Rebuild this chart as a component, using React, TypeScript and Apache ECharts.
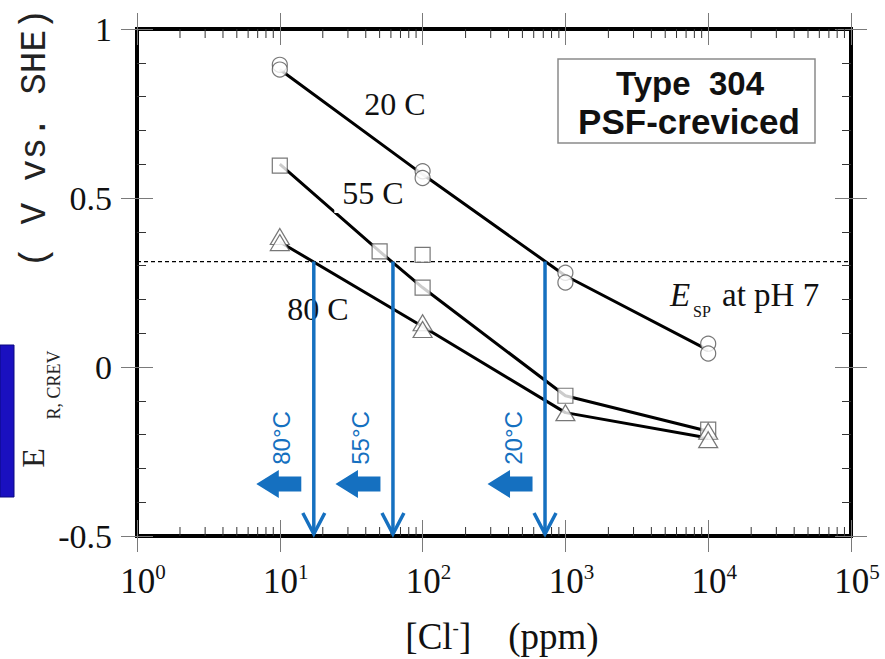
import React, { useEffect, useRef } from 'react';
import * as echarts from 'echarts';

// ---- axis ranges ----
const xMin = 1;
const xMax = 100000;
const yMin = -0.5;
const yMax = 1;
const yTickStep = 0.5;

// ---- 20 C (circles) ----
const c20X = [10, 10, 100, 100, 1000, 1000, 10000, 10000];
const c20Y = [0.894, 0.88, 0.579, 0.559, 0.279, 0.25, 0.069, 0.04];
const fit20X = [10, 100, 1000, 10000];
const fit20Y = [0.88, 0.57, 0.27, 0.05];

// ---- 55 C (squares) ----
const s55X = [10, 50, 100, 100, 1000, 10000];
const s55Y = [0.596, 0.342, 0.332, 0.235, -0.085, -0.185];
const fit55X = [10, 50, 100, 1000, 10000];
const fit55Y = [0.6, 0.342, 0.235, -0.085, -0.19];

// ---- 80 C (triangles) ----
const t80X = [10, 10, 100, 100, 1000, 10000, 10000];
const t80Y = [0.386, 0.368, 0.131, 0.111, -0.135, -0.19, -0.215];
const fit80X = [10, 100, 1000, 10000];
const fit80Y = [0.37, 0.12, -0.135, -0.21];

// ---- E_SP level and critical chloride limits ----
const espLevel = 0.312;
const limitTemps = ['80°C', '55°C', '20°C'];
const limitCl = [17.3, 62, 720];

const serif = '"Liberation Serif", "Times New Roman", serif';
const sans = '"Liberation Sans", Arial, sans-serif';
const mono = '"Liberation Mono", "Courier New", monospace';
const blue = '#1570c0';
const majorTickColor = '#7a7a7a';
const minorTickColor = '#333333';

const minorTickValues: number[] = [];
for (let e = 0; e < 5; e++) {
  for (let m = 2; m <= 9; m++) minorTickValues.push(m * Math.pow(10, e));
}

const pairs = (xs: number[], ys: number[]) => xs.map((x, i) => [x, ys[i]]);

function buildOption(): any {
  const logBase = {
    type: 'log',
    logBase: 10,
    min: xMin,
    max: xMax,
    gridIndex: 0,
    axisLine: { show: false, onZero: false },
    splitLine: { show: false },
    axisLabel: { show: false },
  };
  const majorTick = (inside: boolean) => ({
    show: true,
    inside,
    length: 16,
    lineStyle: { color: majorTickColor, width: 1 },
  });
  const valBase = {
    type: 'value',
    min: yMin,
    max: yMax,
    interval: yTickStep,
    gridIndex: 0,
    axisLine: { show: false, onZero: false },
    splitLine: { show: false },
    axisLabel: { show: false },
  };
  const minor = {
    show: true,
    splitNumber: 5,
    length: 9,
    lineStyle: { color: minorTickColor, width: 1 },
  };

  const markerStyle = { color: '#ffffff', borderColor: '#555555', borderWidth: 1.2 };
  const lineStyle = { color: '#000000', width: 3 };

  return {
    animation: false,
    backgroundColor: '#ffffff',
    grid: {
      left: 137,
      top: 29,
      width: 714,
      height: 507,
      show: true,
      borderColor: '#000000',
      borderWidth: 4,
      backgroundColor: 'transparent',
    },
    xAxis: [
      {
        ...logBase,
        position: 'bottom',
        axisTick: majorTick(false),
        axisLabel: {
          show: true,
          margin: 25,
          formatter: (v: number) => `{b|10}{s|${Math.round(Math.log10(v))}}`,
          rich: {
            b: { fontFamily: serif, fontSize: 35, color: '#111', lineHeight: 40, padding: [0, 0, 0, 12] },
            s: { fontFamily: serif, fontSize: 21, color: '#111', lineHeight: 22, verticalAlign: 'top' },
          },
        },
      },
      { ...logBase, position: 'bottom', axisTick: majorTick(true) },
      { ...logBase, position: 'top', axisTick: majorTick(false) },
      { ...logBase, position: 'top', axisTick: majorTick(true) },
    ],
    yAxis: [
      {
        ...valBase,
        position: 'left',
        axisTick: majorTick(false),
        axisLabel: { show: true, margin: 25, fontFamily: serif, fontSize: 34, color: '#111' },
      },
      { ...valBase, position: 'left', axisTick: majorTick(true), minorTick: minor },
      { ...valBase, position: 'right', axisTick: majorTick(false) },
      { ...valBase, position: 'right', axisTick: majorTick(true), minorTick: minor },
    ],
    series: [
      {
        type: 'custom',
        name: 'minorLogTicks',
        xAxisIndex: 0,
        yAxisIndex: 0,
        z: 1,
        silent: true,
        data: minorTickValues.map((v) => [v, yMin]),
        renderItem: (params: any, api: any) => {
          const v = api.value(0);
          const b = api.coord([v, yMin]);
          const t = api.coord([v, yMax]);
          return {
            type: 'group',
            children: [
              { type: 'line', shape: { x1: b[0], y1: b[1], x2: b[0], y2: b[1] - 9 }, style: { stroke: minorTickColor, lineWidth: 1 } },
              { type: 'line', shape: { x1: t[0], y1: t[1], x2: t[0], y2: t[1] + 9 }, style: { stroke: minorTickColor, lineWidth: 1 } },
            ],
          };
        },
      },
      {
        type: 'line',
        name: 'ESP',
        xAxisIndex: 0,
        yAxisIndex: 0,
        z: 1,
        symbol: 'none',
        data: [[xMin, espLevel], [xMax, espLevel]],
        lineStyle: { color: '#000', width: 1.2, type: [4, 3] },
      },
      { type: 'line', name: 'fit20', symbol: 'none', data: pairs(fit20X, fit20Y), lineStyle, z: 2 },
      { type: 'line', name: 'fit55', symbol: 'none', data: pairs(fit55X, fit55Y), lineStyle, z: 2 },
      { type: 'line', name: 'fit80', symbol: 'none', data: pairs(fit80X, fit80Y), lineStyle, z: 2 },
      { type: 'scatter', name: '20 C', symbol: 'circle', symbolSize: 15, data: pairs(c20X, c20Y), itemStyle: markerStyle, z: 3 },
      { type: 'scatter', name: '55 C', symbol: 'rect', symbolSize: 15, data: pairs(s55X, s55Y), itemStyle: markerStyle, z: 3 },
      { type: 'scatter', name: '80 C', symbol: 'triangle', symbolSize: [19, 16], data: pairs(t80X, t80Y), itemStyle: markerStyle, z: 3 },
      {
        type: 'custom',
        name: 'limits',
        xAxisIndex: 0,
        yAxisIndex: 0,
        z: 6,
        silent: true,
        data: limitCl.map((x) => [x, espLevel, yMin]),
        renderItem: (params: any, api: any) => {
          const x = api.value(0);
          const top = api.coord([x, api.value(1)]);
          const bot = api.coord([x, api.value(2)]);
          const px = top[0];
          const by = bot[1] - 2;
          const cy = bot[1] - 52;
          return {
            type: 'group',
            children: [
              { type: 'line', shape: { x1: px, y1: top[1], x2: px, y2: by }, style: { stroke: blue, lineWidth: 3.5 } },
              {
                type: 'polyline',
                shape: { points: [[px - 11, by - 21], [px, by], [px + 11, by - 21]] },
                style: { stroke: blue, lineWidth: 3.5, fill: 'none' },
              },
              {
                type: 'polygon',
                shape: {
                  points: [
                    [px - 12.5, cy - 7.5],
                    [px - 35, cy - 7.5],
                    [px - 35, cy - 14],
                    [px - 57.5, cy],
                    [px - 35, cy + 14],
                    [px - 35, cy + 7.5],
                    [px - 12.5, cy + 7.5],
                  ],
                },
                style: { fill: blue },
              },
              {
                type: 'text',
                x: px - 32,
                y: bot[1] - 98,
                rotation: Math.PI / 2,
                style: {
                  text: limitTemps[params.dataIndex],
                  font: `24px ${sans}`,
                  fill: blue,
                  align: 'center',
                  verticalAlign: 'middle',
                },
              },
            ],
          };
        },
      },
    ],
    graphic: [
      // left blue bar
      { type: 'rect', shape: { x: 0, y: 345, width: 14, height: 152 }, style: { fill: '#1a10c0', stroke: '#0a0880', lineWidth: 1 }, z: 1 },
      // y axis title
      {
        type: 'text', x: 35, y: 138, rotation: Math.PI / 2, z: 1,
        style: { text: '( V vs. SHE)', font: `36px ${mono}`, fill: '#222', align: 'center', verticalAlign: 'middle' },
      },
      {
        type: 'text', x: 33, y: 458, rotation: Math.PI / 2, z: 1,
        style: { text: 'E', font: `32px ${serif}`, fill: '#222', align: 'center', verticalAlign: 'middle' },
      },
      {
        type: 'text', x: 54, y: 385, rotation: Math.PI / 2, z: 1,
        style: { text: 'R, CREV', font: `18px ${serif}`, fill: '#222', align: 'center', verticalAlign: 'middle' },
      },
      // x axis title
      {
        type: 'text', x: 502, y: 636, z: 1,
        style: {
          text: '[Cl{sup|-}]    (ppm)',
          font: `37px ${serif}`,
          fill: '#111',
          align: 'center',
          verticalAlign: 'middle',
          rich: {
            sup: { fontFamily: serif, fontSize: 19, verticalAlign: 'top', lineHeight: 18, fill: '#111' },
          },
        },
      },
      // curve labels
      { type: 'text', x: 395, y: 104, z: 4, style: { text: '20 C', font: `32px ${serif}`, fill: '#111', align: 'center', verticalAlign: 'middle' } },
      {
        type: 'text', x: 369, y: 193, z: 4,
        style: {
          text: '55 C', font: `32px ${serif}`, fill: '#111', align: 'center', verticalAlign: 'middle',
          backgroundColor: '#ffffff', padding: [0, 0, 8, 8],
        },
      },
      { type: 'text', x: 318, y: 309, z: 4, style: { text: '80 C', font: `32px ${serif}`, fill: '#111', align: 'center', verticalAlign: 'middle' } },
      // E_SP at pH 7
      { type: 'text', x: 670, y: 295, z: 4, style: { text: 'E', font: `italic 33px ${serif}`, fill: '#111', align: 'left', verticalAlign: 'middle' } },
      { type: 'text', x: 693, y: 311, z: 4, style: { text: 'SP', font: `16px ${serif}`, fill: '#111', align: 'left', verticalAlign: 'middle' } },
      { type: 'text', x: 722, y: 295, z: 4, style: { text: 'at pH 7', font: `33px ${serif}`, fill: '#111', align: 'left', verticalAlign: 'middle' } },
      // legend box
      { type: 'rect', z: 4, shape: { x: 558, y: 59, width: 257, height: 84 }, style: { fill: '#ffffff', stroke: '#8a8a8a', lineWidth: 1.5 } },
      { type: 'text', x: 690, y: 83, z: 5, style: { text: 'Type  304', font: `bold 33px ${sans}`, fill: '#111', align: 'center', verticalAlign: 'middle' } },
      { type: 'text', x: 689, y: 121, z: 5, style: { text: 'PSF-creviced', font: `bold 35px ${sans}`, fill: '#111', align: 'center', verticalAlign: 'middle' } },
    ],
  };
}

export default function App() {
  const ref = useRef<HTMLDivElement>(null);
  useEffect(() => {
    if (!ref.current) return;
    const chart = echarts.init(ref.current, null, { renderer: 'svg' });
    chart.setOption(buildOption());
    return () => chart.dispose();
  }, []);
  return (
    <div
      ref={ref}
      style={{ position: 'absolute', left: 0, top: 0, width: 885, height: 659, background: '#ffffff' }}
    />
  );
}
